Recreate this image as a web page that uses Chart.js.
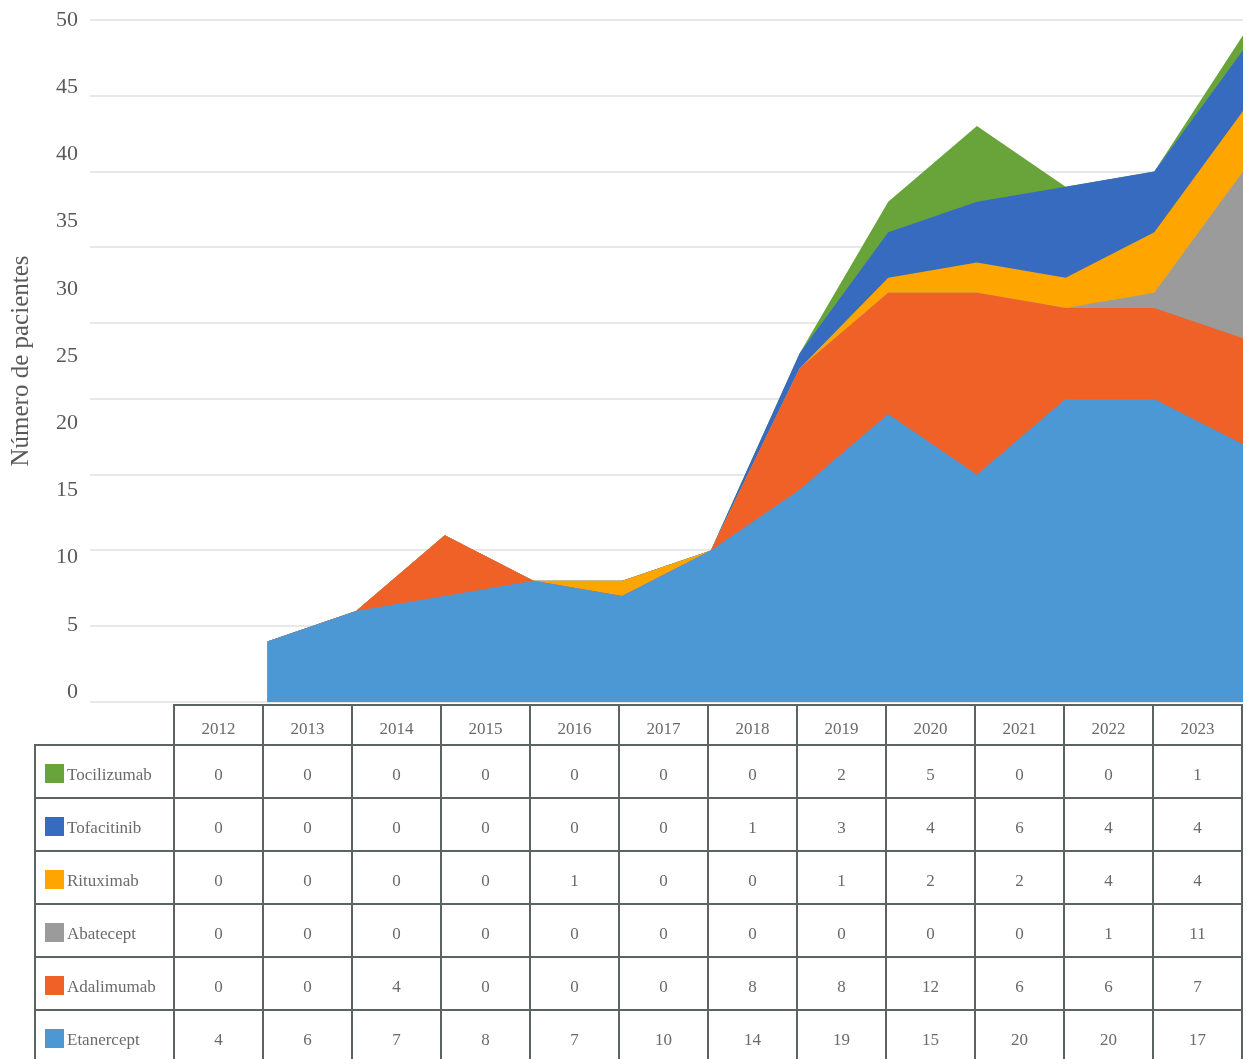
<!DOCTYPE html>
<html>
<head>
<meta charset="utf-8">
<script src="https://cdn.jsdelivr.net/npm/chart.js@4.4.0/dist/chart.umd.min.js"></script>
<style>
  body { margin: 0; background: #fff; width: 1247px; height: 1059px; overflow: hidden; position: relative; font-family: "Liberation Serif", "DejaVu Serif", serif; }
  #chart { position: absolute; left: 0; top: 0; }
  #tbl { position: absolute; left: 34px; top: 704px; border-collapse: collapse; table-layout: fixed; color: #6a6a6a; font-size: 17px; }
  #tbl td { border: 2px solid #5b6460; text-align: center; vertical-align: middle; padding: 7px 0 0 0; white-space: nowrap; }
  #tbl tr { height: 53px; }
  #tbl tr.head { height: 40px; }
  #tbl td.blank { border: none; }
  #tbl td.name { text-align: left; padding-left: 9px; padding-top: 5px; }
  .sw { display: inline-block; width: 19px; height: 19px; vertical-align: -3px; margin-right: 3px; }
</style>
</head>
<body>
<canvas id="chart" width="1247" height="722"></canvas>
<table id="tbl"></table>
<script>
const years = [2012, 2013, 2014, 2015, 2016, 2017, 2018, 2019, 2020, 2021, 2022, 2023];
const etanercept  = [4, 6, 7, 8, 7, 10, 14, 19, 15, 20, 20, 17];
const adalimumab  = [0, 0, 4, 0, 0, 0, 8, 8, 12, 6, 6, 7];
const abatecept   = [0, 0, 0, 0, 0, 0, 0, 0, 0, 0, 1, 11];
const rituximab   = [0, 0, 0, 0, 1, 0, 0, 1, 2, 2, 4, 4];
const tofacitinib = [0, 0, 0, 0, 0, 0, 1, 3, 4, 6, 4, 4];
const tocilizumab = [0, 0, 0, 0, 0, 0, 0, 2, 5, 0, 0, 1];
const yTickLabels = [0, 5, 10, 15, 20, 25, 30, 35, 40, 45, 50];

// bottom to top of the stack
const series = [
  { name: "Etanercept", data: etanercept, color: "#4B98D5" },
  { name: "Adalimumab", data: adalimumab, color: "#F06128" },
  { name: "Abatecept", data: abatecept, color: "#9B9B9B" },
  { name: "Rituximab", data: rituximab, color: "#FFA500" },
  { name: "Tofacitinib", data: tofacitinib, color: "#376BC0" },
  { name: "Tocilizumab", data: tocilizumab, color: "#68A43A" },
];

const textColor = "#595959";

const datasets = series.map((s) => ({
  label: s.name,
  data: s.data.map((v, i) => ({ x: i, y: v })),
  backgroundColor: s.color,
  borderColor: "rgba(0,0,0,0)",
  borderWidth: 0,
  pointRadius: 0,
  tension: 0,
  fill: "origin",
}));

new Chart(document.getElementById("chart"), {
  type: "line",
  data: { datasets: datasets },
  options: {
    responsive: false,
    animation: false,
    devicePixelRatio: 1,
    layout: { padding: { top: 20, bottom: 20, right: 4, left: 0 } },
    plugins: {
      legend: { display: false },
      tooltip: { enabled: false },
    },
    scales: {
      x: {
        type: "linear",
        min: -2,
        max: 11,
        display: false,
      },
      y: {
        stacked: true,
        min: 0,
        max: 45,
        position: "left",
        ticks: { display: false, stepSize: 5 },
        grid: { color: "#e8e8e8", lineWidth: 2, drawTicks: false },
        border: { display: false },
        afterFit: (s) => { s.width = 0; },
      },
      yl: {
        type: "linear",
        position: "left",
        min: -0.744,
        max: 50,
        grid: { display: false, drawTicks: false },
        border: { display: false },
        afterBuildTicks: (s) => { s.ticks = yTickLabels.map((v) => ({ value: v })); },
        ticks: {
          color: textColor,
          padding: 12,
          font: { family: "'Liberation Serif', serif", size: 22, lineHeight: 0.7 },
        },
        title: {
          display: true,
          text: "Número de pacientes",
          color: textColor,
          padding: { top: 6 },
          font: { family: "'Liberation Serif', serif", size: 25 },
        },
        afterFit: (s) => { s.width = 90; },
      },
    },
  },
});

// data table under the chart, rows top to bottom as in the legend
const tbl = document.getElementById("tbl");
let html = '<colgroup><col style="width:139px">' + years.map(() => '<col style="width:89px">').join("") + "</colgroup>";
html += '<tr class="head"><td class="blank"></td>' + years.map((y) => "<td>" + y + "</td>").join("") + "</tr>";
series.slice().reverse().forEach((s) => {
  html += '<tr><td class="name"><span class="sw" style="background:' + s.color + '"></span>' + s.name + "</td>" +
    s.data.map((v) => "<td>" + v + "</td>").join("") + "</tr>";
});
tbl.innerHTML = html;
</script>
</body>
</html>
